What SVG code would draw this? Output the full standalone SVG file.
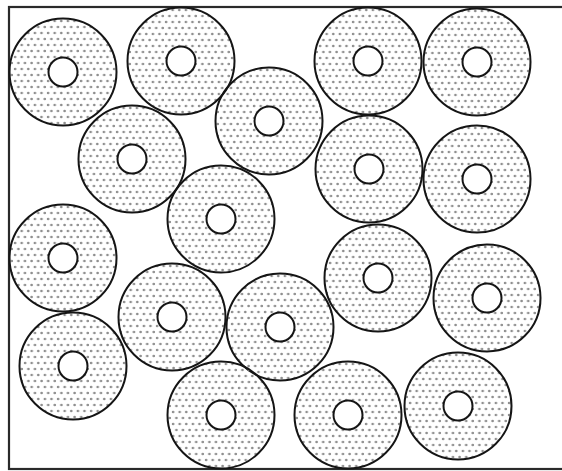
<svg xmlns="http://www.w3.org/2000/svg" xmlns:xlink="http://www.w3.org/1999/xlink" width="562" height="471" viewBox="0 0 562 471">
  <defs>
    <pattern id="dots" patternUnits="userSpaceOnUse" width="6.6" height="12">
      <circle cx="1.6" cy="3" r="1.35" fill="#8e8e8e"/>
      <circle cx="4.9" cy="9" r="1.35" fill="#8e8e8e"/>
    </pattern>
    <g id="ring">
      <circle cx="0" cy="0" r="53.5" fill="url(#dots)" stroke="#151515" stroke-width="2"/>
      <circle cx="0" cy="0" r="14.5" fill="#ffffff" stroke="#151515" stroke-width="2"/>
    </g>
    <style>
      .frame { fill: #ffffff; stroke: #2a2a2a; stroke-width: 2.2; }
    </style>
  </defs>
  <rect x="0" y="0" width="562" height="471" fill="#ffffff"/>
  <rect class="frame" x="9" y="7" width="560" height="462"/>
  <g id="rings">
    <use id="r1" xlink:href="#ring" href="#ring" x="63" y="72"/>
    <use id="r2" xlink:href="#ring" href="#ring" x="181" y="61"/>
    <use id="r3" xlink:href="#ring" href="#ring" x="132" y="159"/>
    <use id="r4" xlink:href="#ring" href="#ring" x="269" y="121"/>
    <use id="r5" xlink:href="#ring" href="#ring" x="368" y="61"/>
    <use id="r6" xlink:href="#ring" href="#ring" x="477" y="62"/>
    <use id="r7" xlink:href="#ring" href="#ring" x="369" y="169"/>
    <use id="r8" xlink:href="#ring" href="#ring" x="477" y="179"/>
    <use id="r9" xlink:href="#ring" href="#ring" x="221" y="219"/>
    <use id="r10" xlink:href="#ring" href="#ring" x="63" y="258"/>
    <use id="r11" xlink:href="#ring" href="#ring" x="73" y="366"/>
    <use id="r12" xlink:href="#ring" href="#ring" x="172" y="317"/>
    <use id="r13" xlink:href="#ring" href="#ring" x="280" y="327"/>
    <use id="r14" xlink:href="#ring" href="#ring" x="378" y="278"/>
    <use id="r15" xlink:href="#ring" href="#ring" x="487" y="298"/>
    <use id="r16" xlink:href="#ring" href="#ring" x="221" y="415"/>
    <use id="r17" xlink:href="#ring" href="#ring" x="348" y="415"/>
    <use id="r18" xlink:href="#ring" href="#ring" x="458" y="406"/>
  </g>
</svg>
